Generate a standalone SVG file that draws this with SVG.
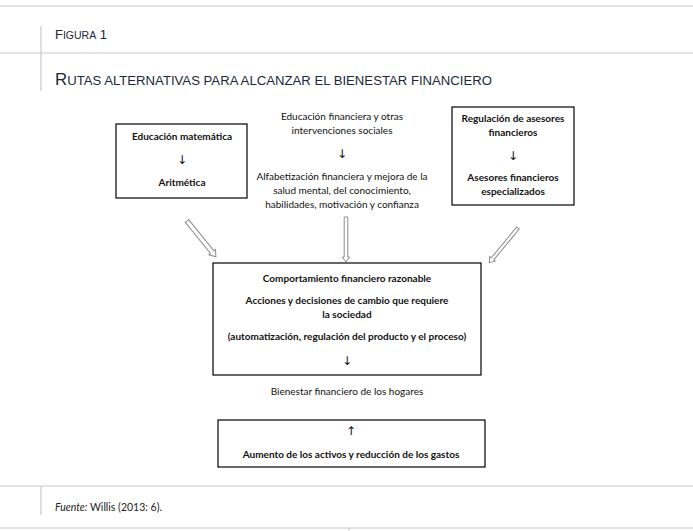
<svg xmlns="http://www.w3.org/2000/svg" width="693" height="531" viewBox="0 0 693 531">
<style>
.rule{stroke:#c8c8c8;stroke-width:1.2;fill:none}
.box{fill:#fff;stroke:#000;stroke-width:1.2}
.t{font-family:Lato,"Liberation Sans",sans-serif;font-size:10px;fill:#111;text-anchor:middle}
.b{font-weight:bold}
.ar{font-family:"DejaVu Sans",sans-serif;font-size:12px;fill:#111;text-anchor:middle}
.cap{font-family:"Liberation Sans Narrow","Liberation Sans",sans-serif;fill:#1c2838}
.arr{fill:#fff;stroke:#8a8a8a;stroke-width:1}
</style>
<rect width="693" height="531" fill="#fff"/>
<g id="frame">
<line class="rule" x1="0" y1="6" x2="693" y2="6"/>
<line class="rule" x1="0" y1="53" x2="693" y2="53"/>
<line class="rule" x1="41" y1="26" x2="41" y2="91"/>
<line class="rule" x1="0" y1="486" x2="693" y2="486"/>
<line class="rule" x1="41" y1="486" x2="41" y2="515"/>
<line class="rule" x1="0" y1="528" x2="693" y2="528"/>
<line class="rule" x1="349" y1="528" x2="349" y2="531"/>
<text class="cap" x="55" y="39" font-size="13">F<tspan font-size="10.5">IGURA</tspan> 1</text>
<text class="cap" x="55" y="85" font-size="16" textLength="437" lengthAdjust="spacingAndGlyphs">R<tspan font-size="12.5">UTAS ALTERNATIVAS PARA ALCANZAR EL BIENESTAR FINANCIERO</tspan></text>
<text x="55" y="511" font-family="Lato,'Liberation Sans',sans-serif" font-size="10.5" fill="#222"><tspan font-style="italic">Fuente:</tspan> Willis (2013: 6).</text>
</g>
<g id="node-matematica">
<rect class="box" x="116" y="124" width="131" height="74"/>
<text class="t b" x="182" y="140">Educación matemática</text>
<text class="ar" x="182" y="164">↓</text>
<text class="t b" x="182" y="186">Aritmética</text>
</g>
<g id="node-educacion-financiera">
<text class="t" x="342" y="120">Educación financiera y otras</text>
<text class="t" x="342" y="134">intervenciones sociales</text>
<text class="ar" x="342" y="158">↓</text>
<text class="t" x="342" y="180">Alfabetización financiera y mejora de la</text>
<text class="t" x="342" y="194">salud mental, del conocimiento,</text>
<text class="t" x="342" y="208">habilidades, motivación y confianza</text>
</g>
<g id="node-regulacion">
<rect class="box" x="452" y="107" width="122" height="98"/>
<text class="t b" x="513" y="122">Regulación de asesores</text>
<text class="t b" x="513" y="136">financieros</text>
<text class="ar" x="513" y="160">↓</text>
<text class="t b" x="513" y="181">Asesores financieros</text>
<text class="t b" x="513" y="195">especializados</text>
</g>
<g id="node-comportamiento">
<rect class="box" x="213" y="263" width="268" height="112"/>
<text class="t b" x="347" y="282">Comportamiento financiero razonable</text>
<text class="t b" x="347" y="304">Acciones y decisiones de cambio que requiere</text>
<text class="t b" x="347" y="318">la sociedad</text>
<text class="t b" x="347" y="340">(automatización, regulación del producto y el proceso)</text>
<text class="ar" x="347" y="365">↓</text>
</g>
<g id="node-bienestar">
<text class="t" x="347" y="395">Bienestar financiero de los hogares</text>
</g>
<g id="node-aumento">
<rect class="box" x="218" y="420" width="267" height="47"/>
<text class="ar" x="351" y="435">↑</text>
<text class="t b" x="351" y="458">Aumento de los activos y reducción de los gastos</text>
</g>
<g id="connectors">
<path class="arr" transform="translate(187,221) rotate(51)" stroke="#707070" stroke-width="1.6" d="M0,-2.2 L40,-2.2 L40,-4.2 L46,0 L40,4.2 L40,2.2 L0,2.2 Z"/>
<path class="arr" transform="translate(346,217) rotate(90)" d="M0,-1.8 L40,-1.8 L40,-3.6 L45,0 L40,3.6 L40,1.8 L0,1.8 Z"/>
<path class="arr" transform="translate(518,228) rotate(129.6)" d="M0,-1.6 L40,-1.6 L40,-3.6 L45,0 L40,3.6 L40,1.6 L0,1.6 Z"/>
</g>
</svg>
